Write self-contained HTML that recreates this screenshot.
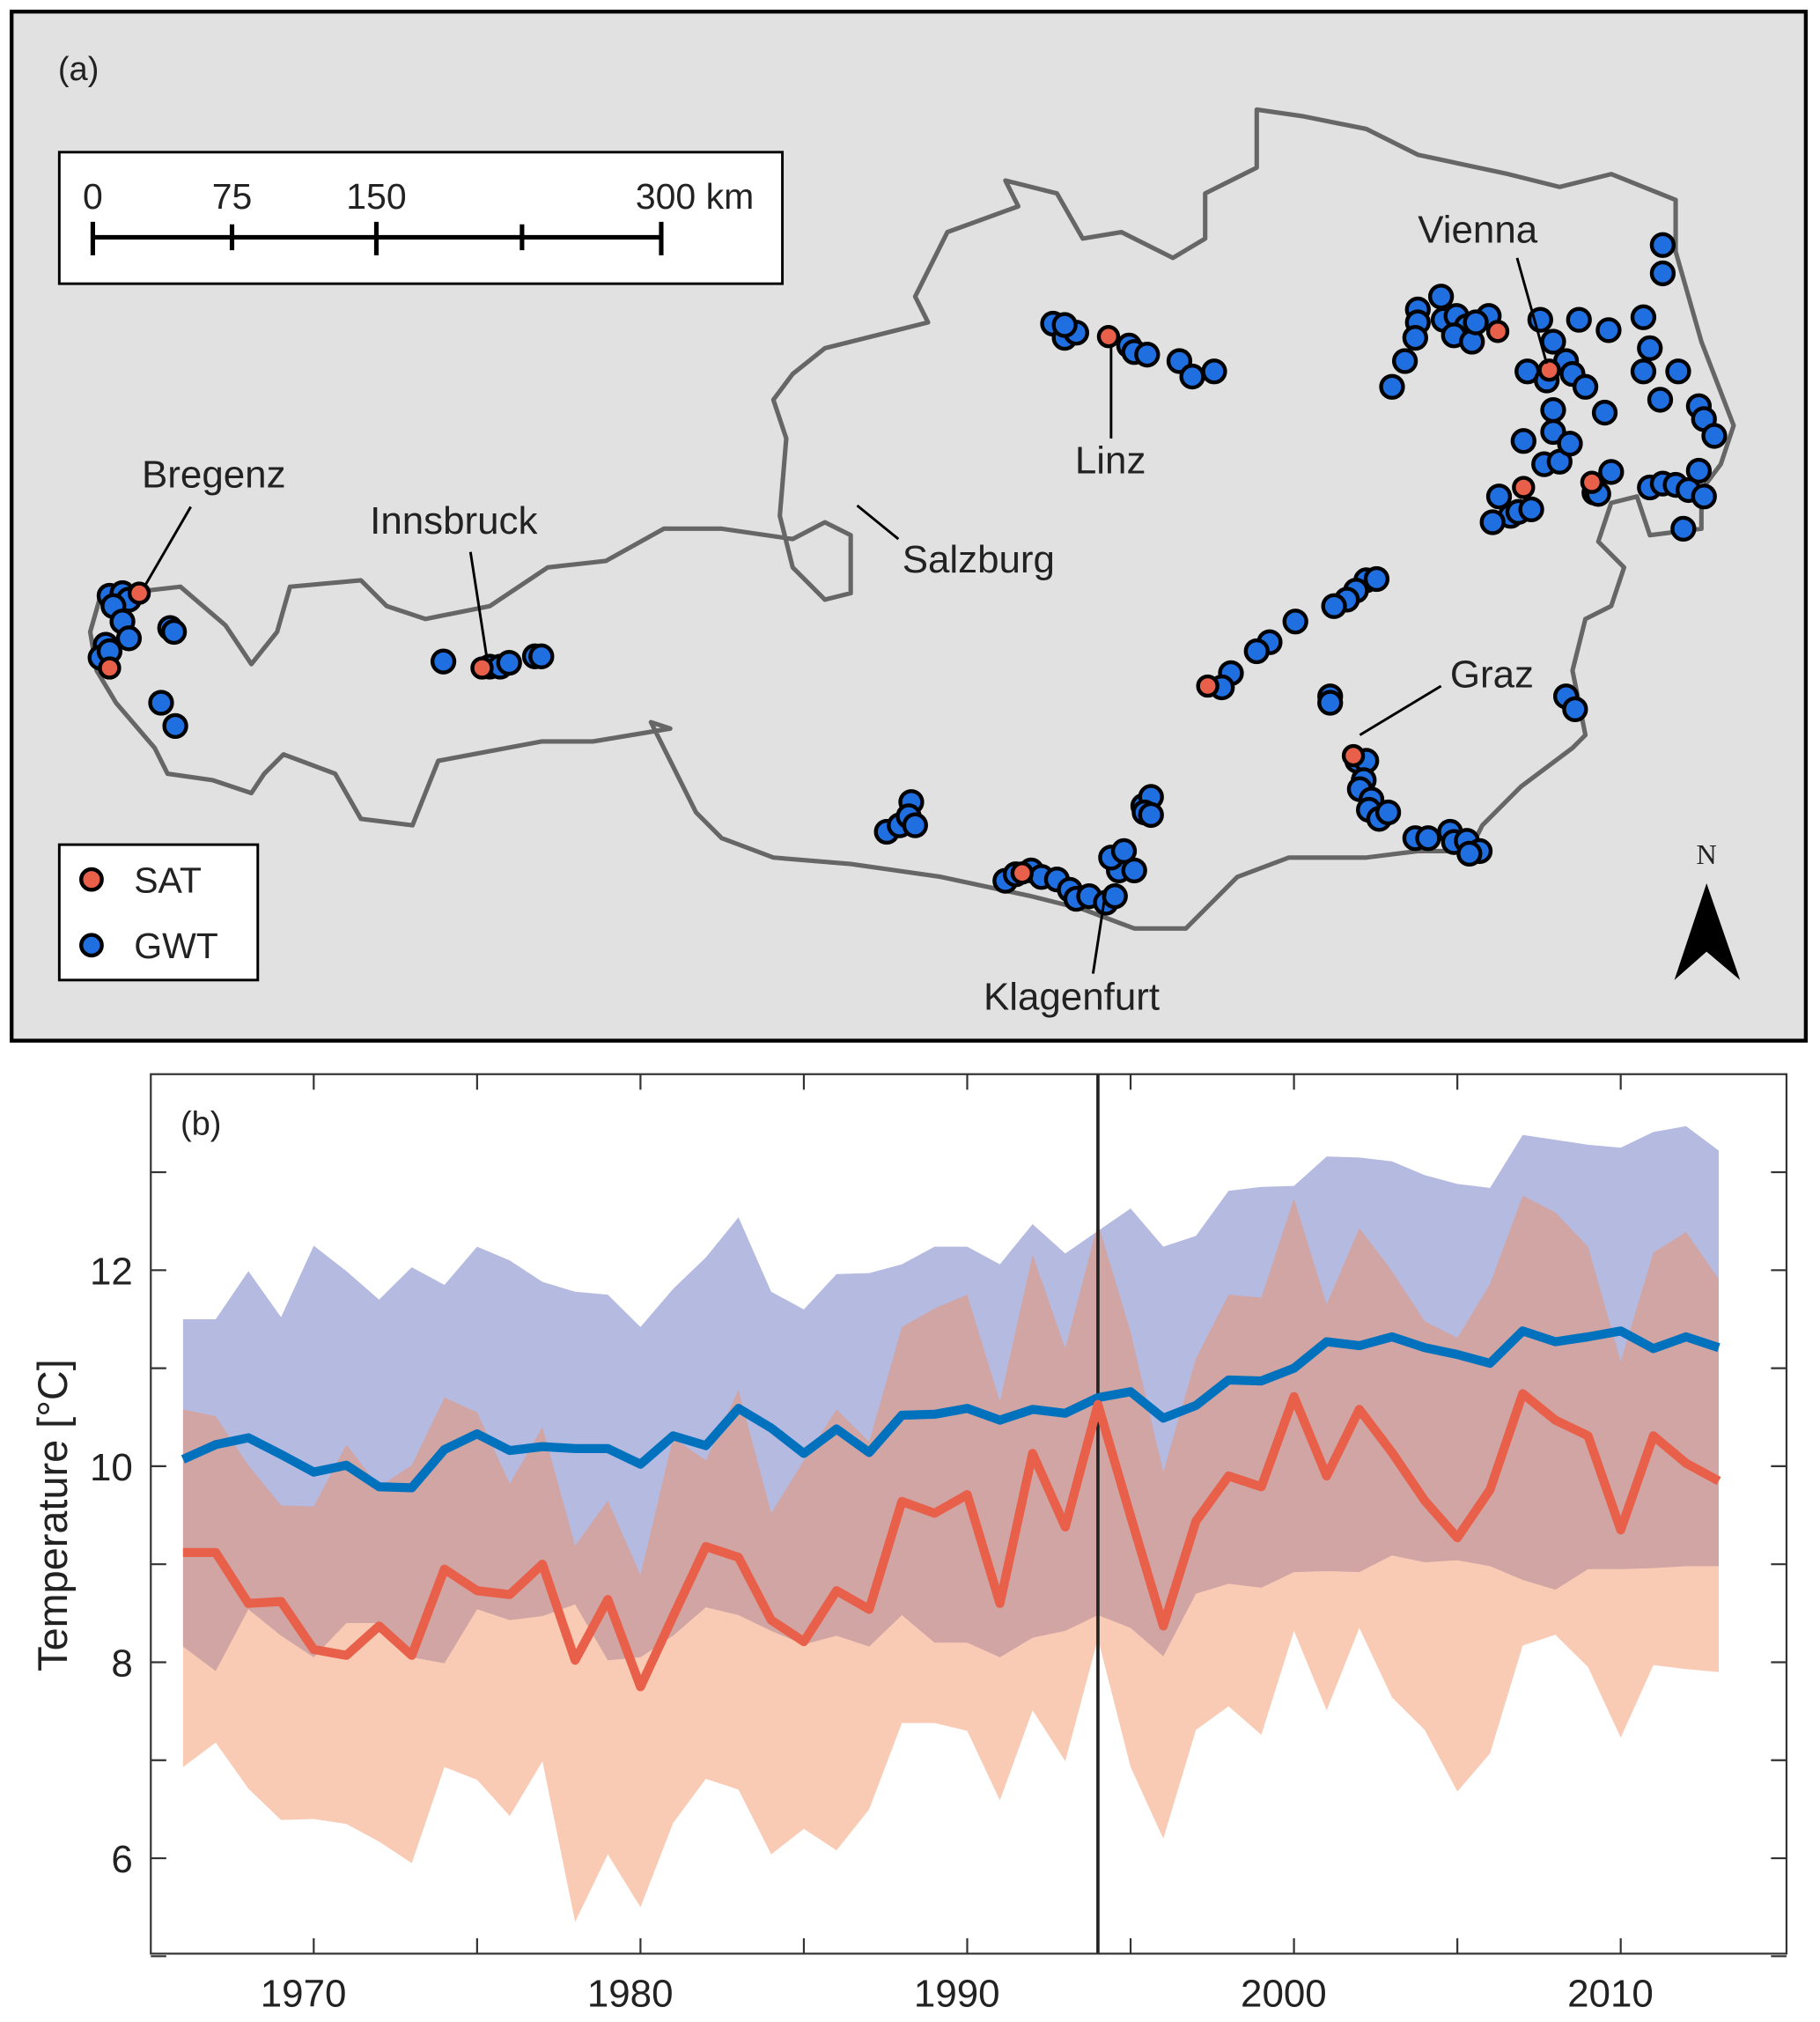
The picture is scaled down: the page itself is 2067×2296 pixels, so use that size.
<!DOCTYPE html>
<html><head><meta charset="utf-8"><style>
html,body{margin:0;padding:0;background:#fff}
svg{display:block}
text{font-family:"Liberation Sans",Arial,sans-serif;fill:#222}
</style></head><body>
<svg id="fig" width="2067" height="2296" viewBox="0 0 1412 1568" preserveAspectRatio="none" xmlns="http://www.w3.org/2000/svg">
<g id="mapPanel">
<rect x="9" y="9" width="1392" height="798" fill="#e1e1e1" stroke="#000" stroke-width="3"/>
<polygon fill="none" stroke="#666" stroke-width="3.5" stroke-linejoin="round" points="78,462 140,455 175,485 195,515 215,490 225,455 280,450 300,470 330,480 380,470 425,440 470,435 515,410 560,410 615,418 640,405 660,415 660,460 640,465 615,440 605,400 610,340 600,310 615,290 640,270 720,250 710,230 735,180 790,160 780,140 820,150 840,185 870,180 910,200 935,185 935,150 975,130 975,85 1010,90 1060,100 1100,120 1170,135 1210,145 1250,135 1300,155 1300,195 1320,265 1345,330 1335,360 1320,380 1320,410 1280,415 1270,385 1250,390 1240,420 1260,440 1250,470 1230,480 1220,520 1230,570 1220,580 1180,610 1150,640 1140,660 1100,660 1060,665 1000,665 960,680 940,700 920,720 880,720 840,705 800,695 730,680 660,670 600,665 560,650 540,630 520,590 505,560 520,565 460,575 420,575 340,590 320,640 280,635 260,600 220,585 205,600 195,615 165,605 130,600 120,580 90,545 75,520 70,490"/>
<g id="dots"></g>
<text x="45" y="62" font-size="26">(a)</text>
<g>
<rect x="46" y="118" width="561" height="102" fill="#fff" stroke="#000" stroke-width="2"/>
<text x="72" y="162" font-size="28" text-anchor="middle">0</text>
<text x="180" y="162" font-size="28" text-anchor="middle">75</text>
<text x="292" y="162" font-size="28" text-anchor="middle">150</text>
<text x="539" y="162" font-size="28" text-anchor="middle">300 km</text>
<path d="M72,184H513M72,172V198M180,174V194M292,172V198M405,174V194M513,172V198" stroke="#000" stroke-width="3.5" fill="none"/>
</g>
<g>
<rect x="46" y="655" width="154" height="105" fill="#fff" stroke="#000" stroke-width="2"/>
<circle cx="71" cy="682" r="8" fill="#e8604a" stroke="#000" stroke-width="3"/>
<text x="104" y="692" font-size="28">SAT</text>
<circle cx="71" cy="733" r="8" fill="#1f6fe0" stroke="#000" stroke-width="3"/>
<text x="104" y="743" font-size="28">GWT</text>
</g>
<g>
<text x="1324" y="670" font-size="22" text-anchor="middle" style="font-family:'Liberation Serif',serif">N</text>
<polygon points="1299,760 1324,685 1350,760 1324,738" fill="#000"/>
</g>
<g font-size="30">
<text x="110" y="378">Bregenz</text><path d="M148,393L112,455" stroke="#000" stroke-width="2"/>
<text x="287" y="414">Innsbruck</text><path d="M365,428L378,512" stroke="#000" stroke-width="2"/>
<text x="834" y="367">Linz</text><path d="M862,268L862,340" stroke="#000" stroke-width="2"/>
<text x="700" y="444">Salzburg</text><path d="M665,392L697,418" stroke="#000" stroke-width="2"/>
<text x="1100" y="188">Vienna</text><path d="M1177,200L1200,282" stroke="#000" stroke-width="2"/>
<text x="1125" y="533">Graz</text><path d="M1118,532L1055,570" stroke="#000" stroke-width="2"/>
<text x="763" y="783">Klagenfurt</text><path d="M858,690L848,755" stroke="#000" stroke-width="2"/>
</g>
</g>
<g id="chart"></g>
</svg>
<script>
const gwtStations=[[85,462],[95,460],[100,465],[88,470],[95,482],[100,495],[82,500],[78,510],[85,505],[132,487],[135,490],[125,545],[136,563],
[344,513],[380,517],[388,517],[395,514],[415,509],[420,509],
[817,251],[826,262],[835,258],[826,252],[876,268],[880,273],[890,275],[915,280],[925,292],[942,288],
[1100,240],[1118,230],[1100,250],[1098,262],[1120,248],[1130,245],[1138,253],[1128,260],[1142,265],[1155,245],[1145,250],[1090,280],[1080,300],[1195,248],[1205,265],[1215,280],[1225,248],[1248,256],[1275,246],[1290,190],[1290,212],[1280,270],[1275,288],[1302,288],[1288,310],[1318,315],[1322,325],[1330,338],[1185,288],[1200,295],[1220,290],[1230,300],[1245,320],[1205,318],[1205,335],[1182,342],[1198,360],[1210,358],[1218,344],[1250,366],[1237,382],[1163,385],[1172,400],[1158,405],[1178,397],[1188,395],[1280,378],[1290,375],[1300,376],[1310,380],[1318,365],[1322,385],[1306,410],[1240,383],
[1060,450],[1068,449],[1052,458],[1045,465],[1035,470],[1005,482],[985,498],[975,505],[955,522],[948,533],[1032,540],[1032,545],
[1053,590],[1060,590],[1058,605],[1055,612],[1064,620],[1062,628],[1070,635],[1077,630],[1098,650],[1108,650],[1125,645],[1128,653],[1138,652],[1148,660],[1140,662],[1215,540],[1222,550],
[688,645],[698,640],[707,622],[705,633],[710,640],[780,683],[788,678],[800,675],[808,680],[820,682],[830,690],[835,697],[845,695],[858,700],[865,695],[868,675],[862,665],[872,660],[880,675],[887,625],[893,618],[888,630],[893,632]];
const satStations=[[108,460],[85,518],[374,518],[860,261],[1162,257],[1202,287],[1182,378],[1235,374],[937,532],[1050,586],[793,677]];
const NS='http://www.w3.org/2000/svg';
const dots=document.getElementById('dots');
gwtStations.forEach(p=>{const c=document.createElementNS(NS,'circle');c.setAttribute('cx',p[0]);c.setAttribute('cy',p[1]);c.setAttribute('r',8.5);c.setAttribute('fill','#1f6fe0');c.setAttribute('stroke','#000');c.setAttribute('stroke-width',3);


dots.appendChild(c);});
satStations.forEach(p=>{const c=document.createElementNS(NS,'circle');c.setAttribute('cx',p[0]);c.setAttribute('cy',p[1]);c.setAttribute('r',7.5);c.setAttribute('fill','#e8604a');c.setAttribute('stroke','#000');c.setAttribute('stroke-width',3);


dots.appendChild(c);});

const years=[1966,1967,1968,1969,1970,1971,1972,1973,1974,1975,1976,1977,1978,1979,1980,1981,1982,1983,1984,1985,1986,1987,1988,1989,1990,1991,1992,1993,1994,1995,1996,1997,1998,1999,2000,2001,2002,2003,2004,2005,2006,2007,2008,2009,2010,2011,2012,2013];
const gwtMean=[10.07,10.22,10.29,10.12,9.94,10.01,9.79,9.78,10.17,10.33,10.16,10.20,10.18,10.18,10.02,10.31,10.21,10.59,10.39,10.13,10.38,10.14,10.52,10.53,10.59,10.47,10.58,10.54,10.70,10.76,10.49,10.62,10.88,10.87,11.00,11.27,11.23,11.32,11.21,11.14,11.05,11.38,11.27,11.32,11.38,11.20,11.32,11.21];
const gwtUpper=[11.50,11.50,11.99,11.52,12.25,11.99,11.70,12.03,11.85,12.24,12.10,11.88,11.78,11.75,11.42,11.81,12.13,12.54,11.78,11.60,11.96,11.97,12.06,12.24,12.24,12.06,12.47,12.17,12.40,12.63,12.24,12.35,12.81,12.85,12.86,13.16,13.15,13.11,12.97,12.88,12.84,13.38,13.33,13.28,13.25,13.41,13.47,13.22];
const gwtLower=[8.16,7.91,8.54,8.27,8.05,8.40,8.40,8.05,7.99,8.54,8.43,8.47,8.59,8.02,8.05,8.27,8.56,8.48,8.32,8.18,8.27,8.16,8.48,8.20,8.20,8.05,8.25,8.32,8.48,8.35,8.06,8.70,8.80,8.76,8.92,8.93,8.92,9.09,9.02,9.04,8.98,8.84,8.74,8.95,8.95,8.96,8.98,8.98];
const satMean=[9.12,9.12,8.60,8.62,8.13,8.07,8.37,8.07,8.95,8.73,8.69,9.00,8.02,8.64,7.75,8.47,9.18,9.07,8.43,8.21,8.73,8.54,9.64,9.52,9.71,8.60,10.13,9.38,10.63,9.49,8.37,9.44,9.90,9.79,10.71,9.90,10.58,10.14,9.65,9.27,9.76,10.74,10.47,10.31,9.35,10.31,10.03,9.85];
const satUpper=[10.58,10.51,10.01,9.60,9.59,10.22,9.79,10.01,10.70,10.55,9.82,10.40,9.19,9.65,8.89,10.29,10.06,10.78,9.52,10.06,10.58,10.25,11.42,11.61,11.75,10.66,12.16,11.20,12.48,11.37,9.94,11.10,11.75,11.72,12.73,11.65,12.43,11.99,11.48,11.31,11.86,12.76,12.59,12.24,11.07,12.18,12.39,11.91];
const satLower=[6.93,7.18,6.71,6.39,6.40,6.35,6.17,5.95,6.93,6.80,6.43,6.99,5.35,6.04,5.50,6.36,6.81,6.70,6.04,6.30,6.08,6.50,7.38,7.38,7.30,6.59,7.51,6.99,8.24,6.93,6.20,7.31,7.55,7.26,8.32,7.51,8.35,7.64,7.31,6.68,7.07,8.17,8.28,7.95,7.23,7.97,7.93,7.90];
const xTicks=[1970,1980,1990,2000,2010];
const yTicks=[6,8,10,12];
const breakYear=1994;

const L=117,R=1386,T=833,B=1515;
const X=y=>142+(y-1966)*25.35;
const Y=v=>1137-(v-10)*76;
const g=document.getElementById('chart');
function el(tag,attrs){const e=document.createElementNS(NS,tag);for(const k in attrs)e.setAttribute(k,attrs[k]);g.appendChild(e);return e;}
function band(up,lo,fill,op){let d='M'+years.map((y,i)=>X(y)+','+Y(up[i])).join('L');d+='L'+years.map((y,i)=>[X(y),Y(lo[i])]).reverse().map(p=>p.join(',')).join('L')+'Z';return el('path',{d:d,fill:fill,'fill-opacity':op});}
function line(v,col){return el('path',{d:'M'+years.map((y,i)=>X(y)+','+Y(v[i])).join('L'),fill:'none',stroke:col,'stroke-width':7,'stroke-linejoin':'round'});}
const b1=band(gwtUpper,gwtLower,'#6b76c4',0.5);


const b2=band(satUpper,satLower,'#f28c5b',0.45);


const vl=el('line',{x1:X(breakYear),x2:X(breakYear),y1:T,y2:B,stroke:'#222','stroke-width':2.5});


const l1=line(gwtMean,'#0072bd');


const l2=line(satMean,'#e8604a');


const fr=el('rect',{x:L,y:T,width:R-L,height:B-T,fill:'none',stroke:'#333','stroke-width':1.5});


for(let v=5;v<=13;v++){const yy=Y(v);el('path',{d:`M${L},${yy}h12M${R},${yy}h-12`,stroke:'#333','stroke-width':1.5});}
yTicks.forEach(v=>{const t=el('text',{x:L-14,y:Y(v)+11,'font-size':30,'text-anchor':'end'});t.textContent=v;

});
for(let yr=1970;yr<=2010;yr+=5){const xx=X(yr);el('path',{d:`M${xx},${B}v-12M${xx},${T}v12`,stroke:'#333','stroke-width':1.5});}
xTicks.forEach(yr=>{const t=el('text',{x:X(yr)-8,y:1556,'font-size':30,'text-anchor':'middle'});t.textContent=yr;

});
const yl=el('text',{x:0,y:0,'font-size':32,'text-anchor':'middle',transform:'translate(52,1175) rotate(-90)'});yl.textContent='Temperature [°C]';


const pl=el('text',{x:140,y:880,'font-size':26});pl.textContent='(b)';


</script>
</body></html>
